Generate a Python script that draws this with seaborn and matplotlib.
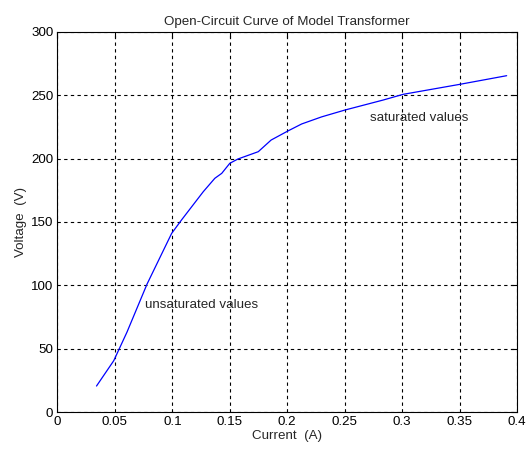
import matplotlib
matplotlib.use("Agg")
import matplotlib.pyplot as plt
import seaborn as sns
import pandas as pd

current = [0.034, 0.0490, 0.0605, 0.078, 0.0994, 0.108, 0.127, 0.137, 0.143,
           0.150, 0.157, 0.1748, 0.186, 0.2009, 0.2126, 0.23, 0.2503, 0.2836, 0.301, 0.3504, 0.391]
voltage = [20.5, 40.5, 63, 101, 141, 151.6, 174, 184.5, 188.4,
           196.3, 199.7, 205.5, 214.7, 222, 227.4, 233, 238.4, 246.3, 250.8, 258.7, 265.5]

df = pd.DataFrame({"Current": current, "Voltage": voltage})

sns.set_style("white")
plt.rcParams['font.family'] = ['Liberation Sans', 'DejaVu Sans']

fig = plt.figure(figsize=(5.27, 4.55), dpi=100)
ax = fig.add_axes([0.109, 0.0945, 0.872, 0.8352])

sns.lineplot(data=df, x="Current", y="Voltage", ax=ax, color="#0000ff",
             linewidth=0.9, sort=False, estimator=None)

fs = 9.6
ax.set_xlim(0, 0.4)
ax.set_ylim(0, 300)
ax.set_xticks([0, 0.05, 0.1, 0.15, 0.2, 0.25, 0.3, 0.35, 0.4])
ax.set_xticklabels(["0", "0.05", "0.1", "0.15", "0.2", "0.25", "0.3", "0.35", "0.4"])
ax.set_yticks([0, 50, 100, 150, 200, 250, 300])
ax.grid(True, color="black", linestyle=(0, (3, 3)), linewidth=0.8)
ax.tick_params(direction="in", length=4, labelsize=fs, top=True, right=True,
               colors="black", width=0.8, pad=3)
for s in ax.spines.values():
    s.set_color("black")
    s.set_linewidth(0.8)

ax.set_title("Open-Circuit Curve of Model Transformer", fontsize=fs, pad=5)
ax.set_xlabel("Current  (A)", fontsize=fs, labelpad=1)
ax.set_ylabel("Voltage  (V)", fontsize=fs, labelpad=3)

ax.text(0.076, 84.5, "unsaturated values", fontsize=fs, va="center", ha="left")
ax.text(0.272, 232, "saturated values", fontsize=fs, va="center", ha="left")

fig.savefig("out.png", dpi=100)
